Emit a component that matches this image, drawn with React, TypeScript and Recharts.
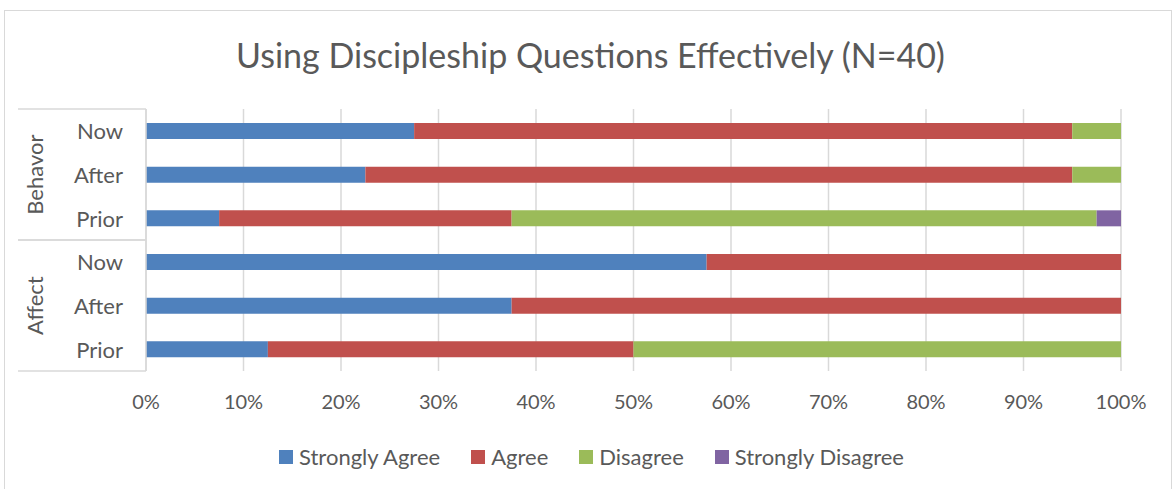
import React from "react";
import { BarChart, Bar, XAxis, YAxis, CartesianGrid, Legend } from "recharts";

// category levels, top to bottom
const groups = ["Behavor", "Behavor", "Behavor", "Affect", "Affect", "Affect"];
const periods = ["Now", "After", "Prior", "Now", "After", "Prior"];

// percent of respondents
const stronglyAgree = [27.5, 22.5, 7.5, 57.5, 37.5, 12.5];
const agree = [67.5, 72.5, 30, 42.5, 62.5, 37.5];
const disagree = [5, 5, 60, 0, 0, 50];
const stronglyDisagree = [0, 0, 2.5, 0, 0, 0];

const xTicks = [0, 10, 20, 30, 40, 50, 60, 70, 80, 90, 100];

const seriesNames = ["Strongly Agree", "Agree", "Disagree", "Strongly Disagree"];
const seriesKeys = ["sa", "a", "d", "sd"];
const seriesColors = ["#4F81BD", "#C0504D", "#9BBB59", "#8064A2"];

const data = periods.map((p, i) => ({
    key: `${groups[i]}-${p}-${i}`,
    period: p,
    group: groups[i],
    sa: stronglyAgree[i],
    a: agree[i],
    d: disagree[i],
    sd: stronglyDisagree[i],
}));

const FONT = "Lato, 'Open Sans', sans-serif";
const TEXT = "#595959";
const LINE = "#d9d9d9";
const BAND = 263 / 6; // row height in px (plot height / rows)

function CategoryTick({ x, y, index }: any) {
    const row = data[index];
    if (!row) return null;
    const axisX = x + 8;
    const lineLeft = 18;
    const isFirstInGroup = index === 0 || data[index - 1].group !== row.group;
    const isLastInGroup = index === data.length - 1 || data[index + 1].group !== row.group;
    let groupLabel = null;
    if (isFirstInGroup) {
        // group label centred over its rows
        let n = 0;
        while (index + n < data.length && data[index + n].group === row.group) n++;
        const cy = y + ((n - 1) * BAND) / 2;
        groupLabel = (
            <text
                x={35}
                y={cy}
                transform={`rotate(-90 35 ${cy})`}
                textAnchor="middle"
                dominantBaseline="central"
                fill={TEXT}
                fontSize={22}
                fontFamily={FONT}
            >
                {row.group}
            </text>
        );
    }
    return (
        <g>
            <text
                x={axisX - 23}
                y={y}
                textAnchor="end"
                dominantBaseline="central"
                fill={TEXT}
                fontSize={22}
                fontFamily={FONT}
            >
                {row.period}
            </text>
            {groupLabel}
            {isFirstInGroup && (
                <line x1={lineLeft} x2={axisX} y1={y - BAND / 2} y2={y - BAND / 2} stroke={LINE} strokeWidth={1.5} />
            )}
            {isLastInGroup && (
                <line x1={lineLeft} x2={axisX} y1={y + BAND / 2} y2={y + BAND / 2} stroke={LINE} strokeWidth={1.5} />
            )}
        </g>
    );
}

function LegendContent() {
    return (
        <div
            style={{
                display: "flex",
                justifyContent: "center",
                gap: 31,
                fontFamily: FONT,
                fontSize: 22,
                color: TEXT,
                lineHeight: "26px",
                paddingLeft: 8,
            }}
        >
            {seriesNames.map((name, i) => (
                <div key={name} style={{ display: "flex", alignItems: "center" }}>
                    <span
                        style={{
                            display: "inline-block",
                            width: 14,
                            height: 14,
                            background: seriesColors[i],
                            marginRight: 6,
                        }}
                    />
                    <span>{name}</span>
                </div>
            ))}
        </div>
    );
}

export default function App() {
    return (
        <div style={{ position: "absolute", left: 0, top: 0, width: 1175, height: 489, background: "#fff", overflow: "hidden" }}>
            <div
                style={{
                    position: "absolute",
                    left: 4,
                    top: 10,
                    width: 1166,
                    height: 490,
                    border: `1.5px solid ${LINE}`,
                }}
            />
            <div
                style={{
                    position: "absolute",
                    left: 3,
                    top: 33,
                    width: 1175,
                    textAlign: "center",
                    fontFamily: FONT,
                    fontSize: 34,
                    lineHeight: "44px",
                    color: TEXT,
                }}
            >
                Using Discipleship Questions Effectively (N=40)
            </div>
            <div style={{ position: "absolute", left: 0, top: 0 }}>
                <BarChart
                    width={1175}
                    height={489}
                    data={data}
                    layout="vertical"
                    margin={{ top: 109, right: 54, bottom: 52, left: 0 }}
                    barSize={16}
                >
                    <CartesianGrid horizontal={false} stroke={LINE} strokeWidth={1.5} />
                    <XAxis
                        type="number"
                        domain={[0, 100]}
                        ticks={xTicks}
                        tickFormatter={(v) => `${v}%`}
                        axisLine={false}
                        tickLine={false}
                        tick={{ fill: TEXT, fontSize: 20, fontFamily: FONT }}
                        tickMargin={18}
                        interval={0}
                        height={40}
                    />
                    <YAxis
                        type="category"
                        dataKey="key"
                        width={146}
                        tick={<CategoryTick />}
                        tickLine={false}
                        axisLine={{ stroke: LINE, strokeWidth: 1.5 }}
                        interval={0}
                    />
                    <Legend
                        content={<LegendContent />}
                        wrapperStyle={{ position: "absolute", left: 0, top: 444, width: 1175 }}
                    />
                    {seriesKeys.map((k, i) => (
                        <Bar
                            key={k}
                            dataKey={k}
                            name={seriesNames[i]}
                            stackId="s"
                            fill={seriesColors[i]}
                            isAnimationActive={false}
                        />
                    ))}
                </BarChart>
            </div>
        </div>
    );
}
